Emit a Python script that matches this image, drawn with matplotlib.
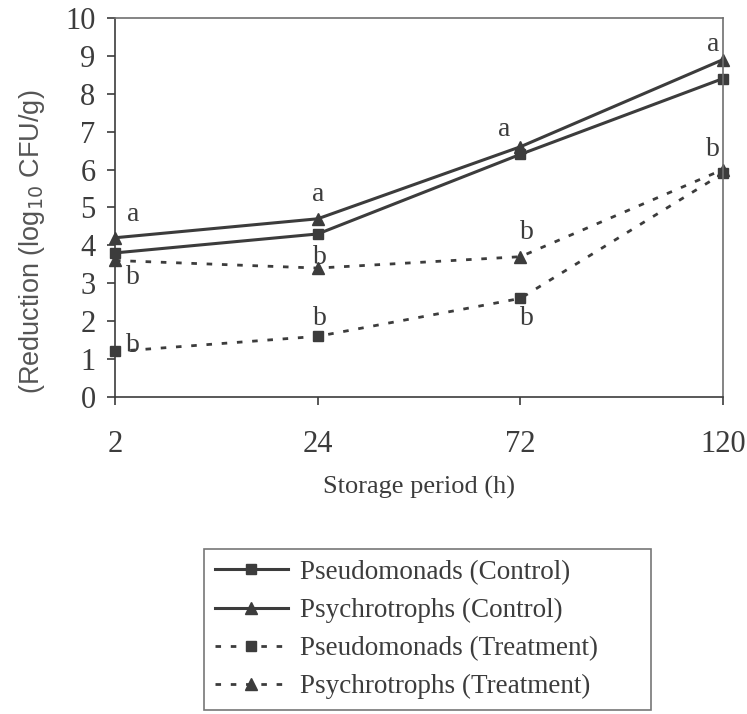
import numpy as np
import matplotlib.pyplot as plt

# Storage times (h) and log10 reductions
hours = ['2', '24', '72', '120']
pseudo_control = [3.8, 4.3, 6.4, 8.4]
psychro_control = [4.2, 4.7, 6.6, 8.9]
pseudo_treat = [1.2, 1.6, 2.6, 5.9]
psychro_treat = [3.6, 3.4, 3.7, 6.0]

# significance letters
letters_control = ['a', 'a', 'a', 'a']
letters_psychro_treat = ['b', 'b', 'b', 'b']
letters_pseudo_treat = ['b', 'b', 'b', '']

ink = '#3c3c3c'
serif = ['Liberation Serif', 'DejaVu Serif']

fig = plt.figure(figsize=(7.47, 7.14), dpi=100)
ax = fig.add_axes([0.154, 0.444, 0.814, 0.531])

x = np.arange(len(hours))
dash = (0, (2, 3.5))
ax.plot(x, pseudo_control, color=ink, lw=2.2, marker='s', ms=7,
        label='Pseudomonads (Control)', clip_on=False)
ax.plot(x, psychro_control, color=ink, lw=2.2, marker='^', ms=8,
        label='Psychrotrophs (Control)', clip_on=False)
ax.plot(x, pseudo_treat, color=ink, lw=2, ls=dash, marker='s', ms=7,
        label='Pseudomonads (Treatment)', clip_on=False)
ax.plot(x, psychro_treat, color=ink, lw=2, ls=dash, marker='^', ms=8,
        label='Psychrotrophs (Treatment)', clip_on=False)

# letter annotations
txt = dict(fontsize=20, family=serif, color=ink, ha='center', va='center')
a_off = [(0.09, 0.6), (0.0, 0.65), (-0.08, 0.45), (-0.05, 0.4)]
for i, l in enumerate(letters_control):
    ax.text(x[i] + a_off[i][0], psychro_control[i] + a_off[i][1], l, **txt)
bt_off = [(0.09, -0.45), (0.01, 0.27), (0.03, 0.63), (-0.05, 0.52)]
for i, l in enumerate(letters_psychro_treat):
    ax.text(x[i] + bt_off[i][0], psychro_treat[i] + bt_off[i][1], l, **txt)
bp_off = [(0.09, 0.17), (0.01, 0.48), (0.03, -0.52)]
for i, l in enumerate(letters_pseudo_treat):
    if l:
        ax.text(x[i] + bp_off[i][0], pseudo_treat[i] + bp_off[i][1], l, **txt)

ax.set_xlim(0, 3)
ax.set_ylim(0, 10)
ax.set_yticks(range(0, 11))
ax.set_xticks(x)
ax.set_xticklabels(hours)
ax.tick_params(axis='both', colors=ink, labelsize=22, length=6, width=1.2,
               direction='out')
ax.tick_params(axis='x', pad=18)
ax.tick_params(axis='y', pad=8)
for lab in ax.get_xticklabels() + ax.get_yticklabels():
    lab.set_family(serif)
for sp in ax.spines.values():
    sp.set_color('#707070')
    sp.set_linewidth(1.2)
ax.spines['left'].set_color(ink)
ax.spines['bottom'].set_color(ink)

ax.set_ylabel('(Reduction (log$_{10}$ CFU/g)', fontsize=19.5, color='#555555',
              family=['Liberation Sans', 'DejaVu Sans'])
ax.yaxis.set_label_coords(-0.112, 0.41)
ax.set_xlabel('Storage period (h)', fontsize=19, color=ink, family=serif,
              labelpad=12)

handles, labels = ax.get_legend_handles_labels()
leg = fig.legend(handles, labels, loc='upper left', mode='expand',
                 bbox_to_anchor=(204 / 747, 1 - 549 / 714, 447 / 747, 0),
                 prop={'family': serif, 'size': 19.5}, frameon=True,
                 fancybox=False, edgecolor='#555555', handlelength=2.7,
                 handletextpad=0.45, labelspacing=0.48, borderpad=0.4,
                 borderaxespad=0)
leg.get_frame().set_linewidth(1.2)
for t in leg.get_texts():
    t.set_color(ink)

fig.savefig('out.png', dpi=100, facecolor='white')
